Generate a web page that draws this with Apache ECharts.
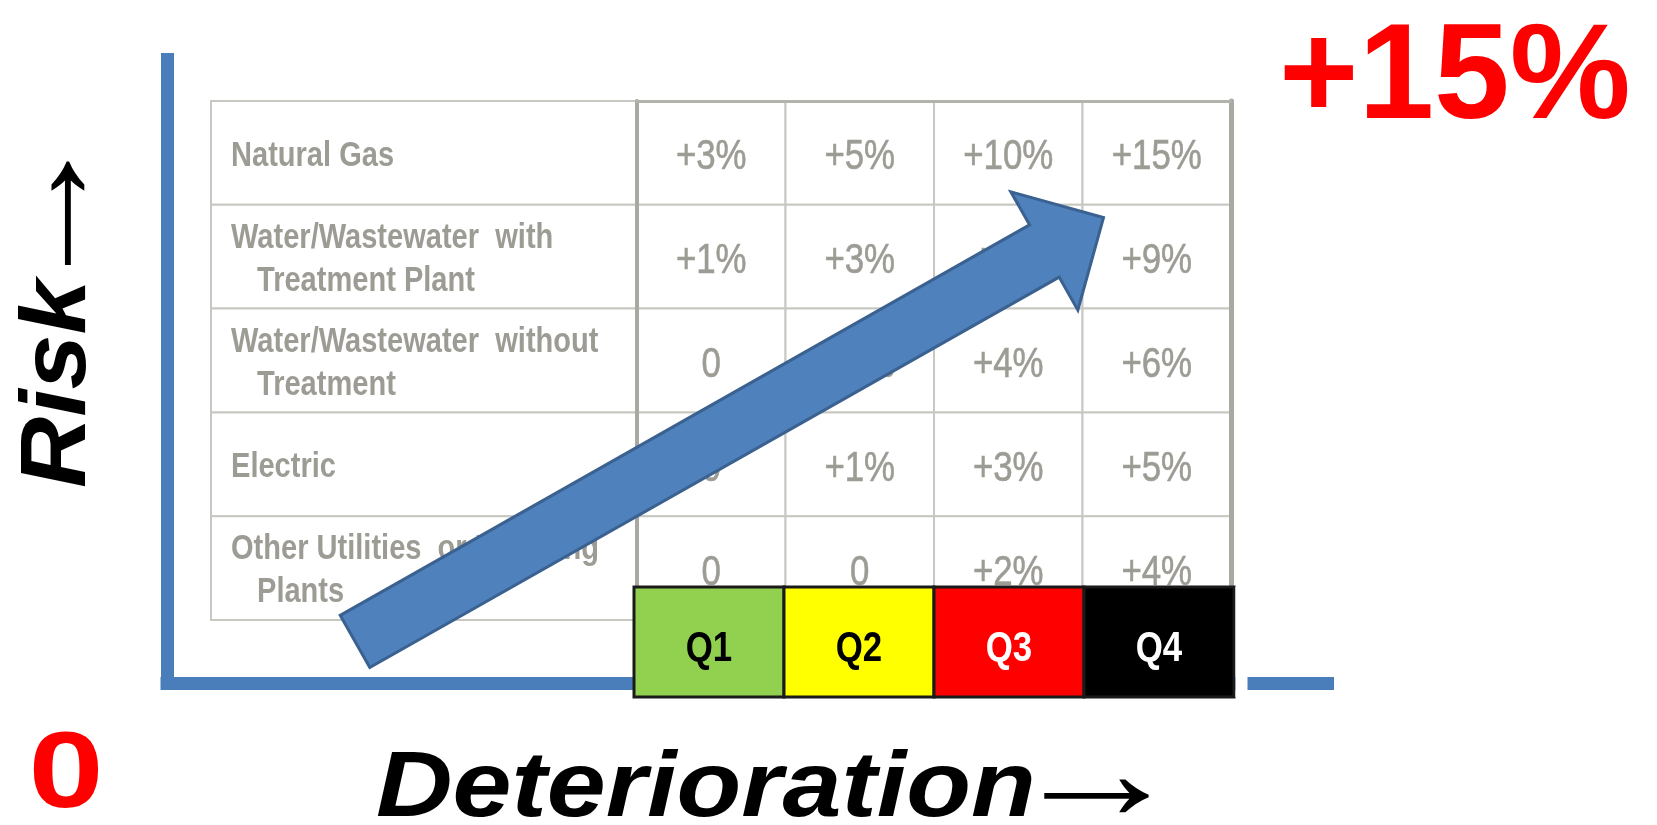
<!DOCTYPE html>
<html>
<head>
<meta charset="utf-8">
<title>Risk vs Deterioration</title>
<script src="https://cdn.jsdelivr.net/npm/echarts@6/dist/echarts.min.js"></script>
<style>
  html, body { margin: 0; padding: 0; background: #fff; }
  #chart { width: 1657px; height: 825px; }
</style>
</head>
<body>
<div id="chart"></div>
<script>
// utility rows, top to bottom
const utilities = [
  'Natural Gas',
  'Water/Wastewater  with\nTreatment Plant',
  'Water/Wastewater  without\nTreatment',
  'Electric',
  'Other Utilities  or Pumping\nPlants'
];
// deterioration quartiles (table columns and bottom band)
const quartiles = ['Q1', 'Q2', 'Q3', 'Q4'];
// added risk in %, Q1..Q4 for each row
const naturalGas = [3, 5, 10, 15];
const waterWithPlant = [1, 3, 6, 9];
const waterWithoutPlant = [0, 2, 4, 6];
const electric = [0, 1, 3, 5];
const otherUtilities = [0, 0, 2, 4];
const riskRows = [naturalGas, waterWithPlant, waterWithoutPlant, electric, otherUtilities];
// trend arrow, [deterioration %, risk %] for tail and tip
const trendFrom = [16.2, 1.0];
const trendTo = [80.7, 11.2];
// risk axis range
const riskMin = 0;
const riskMax = 15;

const bandColors = ['#92d050', '#ffff00', '#ff0000', '#000000'];
const bandTextColors = ['#000000', '#000000', '#ffffff', '#ffffff'];
const sans = '"Liberation Sans", Arial, sans-serif';
const serif = '"Liberation Serif", "Times New Roman", serif';
const tableGray = '#9c9b94';
const gridGray = '#c8c8c3';
const axisBlue = '#4a7ebb';
const narrowScale = 0.83; // no narrow font installed, squeeze the sans instead

const fmtRisk = v => (v === 0 ? '0' : '+' + v + '%');

let valueData = [];
riskRows.forEach((row, r) => {
  row.forEach((v, c) => valueData.push([c, r, v]));
});

const hidden = { show: false };
const blueLine = { show: true, lineStyle: { color: axisBlue, width: 13, cap: 'square' } };

// one table cell: rect from the category band
const cellRect = (api, col, row, style) => {
  const c = api.coord([col, row]);
  const s = api.size([1, 1]);
  return {
    center: c,
    size: s,
    el: { type: 'rect', shape: { x: c[0] - s[0] / 2, y: c[1] - s[1] / 2, width: s[0], height: s[1] }, style: style }
  };
};

let option = {
  animation: false,
  backgroundColor: '#fff',
  grid: [
    { left: 167, top: 59.5, right: 329.5, bottom: 142 },
    { left: 211, top: 101, width: 426, height: 519 },
    { left: 637, top: 101, width: 594, height: 519 },
    { left: 634, top: 587, width: 600, height: 110 }
  ],
  xAxis: [
    { gridIndex: 0, type: 'value', min: 0, max: 100, axisLine: blueLine,
      axisTick: hidden, axisLabel: hidden, splitLine: hidden },
    { gridIndex: 1, type: 'category', data: ['label'], show: false },
    { gridIndex: 2, type: 'category', data: quartiles, position: 'top', z: 3,
      axisLine: { show: true, lineStyle: { color: '#b3b2ab', width: 3 } },
      axisTick: hidden, axisLabel: hidden },
    { gridIndex: 3, type: 'category', data: quartiles, show: false }
  ],
  yAxis: [
    { gridIndex: 0, type: 'value', min: riskMin, max: riskMax, axisLine: blueLine,
      axisTick: hidden, axisLabel: hidden, splitLine: hidden },
    { gridIndex: 1, type: 'category', data: utilities, inverse: true, show: false },
    { gridIndex: 2, type: 'category', data: utilities, inverse: true, position: 'left', z: 3,
      axisLine: { show: true, lineStyle: { color: '#a9a8a1', width: 4 } },
      axisTick: hidden, axisLabel: hidden },
    { gridIndex: 2, type: 'category', data: utilities, inverse: true, position: 'right', z: 3,
      axisLine: { show: true, lineStyle: { color: '#a9a8a1', width: 5 } },
      axisTick: hidden, axisLabel: hidden },
    { gridIndex: 3, type: 'category', data: ['band'], show: false }
  ],
  graphic: [
    { type: 'text', x: 1279, y: 80,
      style: { text: '+' + riskMax + '%', font: 'bold 136px ' + sans, fill: '#ff0000',
        align: 'left', verticalAlign: 'middle' } },
    { type: 'text', x: 66, y: 777, scaleX: 1.25,
      style: { text: String(riskMin), font: 'bold 108px ' + sans, fill: '#ff0000',
        align: 'center', verticalAlign: 'middle' } },
    { type: 'text', x: 376, y: 790, scaleX: 1.14,
      style: { text: 'Deterioration', font: 'italic bold 93px ' + sans, fill: '#000',
        align: 'left', verticalAlign: 'middle' } },
    { type: 'text', x: 1008, y: 782, scaleX: 1.26,
      style: { text: '\u2192', font: '140px ' + serif, fill: '#000',
        align: 'left', verticalAlign: 'middle' } },
    { type: 'text', x: 59, y: 488, rotation: Math.PI / 2, scaleX: 1.06,
      style: { text: 'Risk', font: 'italic bold 93px ' + sans, fill: '#000',
        align: 'left', verticalAlign: 'middle' } },
    { type: 'text', x: 54, y: 301, rotation: Math.PI / 2, scaleX: 1.25,
      style: { text: '\u2192', font: '140px ' + serif, fill: '#000',
        align: 'left', verticalAlign: 'middle' } }
  ],
  series: [
    {
      // row labels column
      type: 'custom',
      xAxisIndex: 1,
      yAxisIndex: 1,
      data: utilities.map((u, i) => [0, i]),
      encode: { x: 0, y: 1 },
      renderItem: (params, api) => {
        const r = api.value(1);
        const cell = cellRect(api, 0, r, { fill: '#fff', stroke: gridGray, lineWidth: 2 });
        const lines = utilities[r].split('\n');
        const x0 = cell.center[0] - cell.size[0] / 2;
        const children = [cell.el];
        lines.forEach((t, k) => {
          children.push({
            type: 'text',
            x: x0 + 20 + (k ? 26 : 0),
            y: cell.center[1] + 3 + (k - (lines.length - 1) / 2) * 43,
            scaleX: narrowScale,
            style: { text: t, font: 'bold 35px ' + sans, fill: tableGray, align: 'left', verticalAlign: 'middle' }
          });
        });
        return { type: 'group', children: children };
      }
    },
    {
      // risk increments
      type: 'custom',
      xAxisIndex: 2,
      yAxisIndex: 2,
      data: valueData,
      encode: { x: 0, y: 1 },
      renderItem: (params, api) => {
        const cell = cellRect(api, api.value(0), api.value(1), { fill: '#fff', stroke: gridGray, lineWidth: 2 });
        return {
          type: 'group',
          children: [cell.el, {
            type: 'text',
            x: cell.center[0],
            y: cell.center[1] + 5,
            scaleX: narrowScale,
            style: { text: fmtRisk(api.value(2)), font: '42px ' + sans, fill: tableGray,
              stroke: tableGray, lineWidth: 0.6, align: 'center', verticalAlign: 'middle' }
          }]
        };
      }
    },
    {
      // quartile band
      type: 'custom',
      xAxisIndex: 3,
      yAxisIndex: 4,
      z: 5,
      data: quartiles.map((q, i) => [i, 0]),
      encode: { x: 0, y: 1 },
      renderItem: (params, api) => {
        const i = api.value(0);
        const cell = cellRect(api, i, 0, { fill: bandColors[i], stroke: '#1a1a1a', lineWidth: 3 });
        const children = [cell.el, {
          type: 'text',
          x: cell.center[0],
          y: cell.center[1] + 7,
          scaleX: narrowScale,
          style: { text: quartiles[i], font: 'bold 42px ' + sans, fill: bandTextColors[i], align: 'center', verticalAlign: 'middle' }
        }];
        if (i === quartiles.length - 1) {
          // white margin right of the band that breaks the axis line
          children.push({
            type: 'rect',
            shape: { x: cell.center[0] + cell.size[0] / 2 + 1.5, y: cell.center[1] - cell.size[1] / 2,
              width: 12, height: cell.size[1] },
            style: { fill: '#fff' }
          });
        }
        return { type: 'group', children: children };
      }
    },
    {
      // trend arrow
      type: 'custom',
      xAxisIndex: 0,
      yAxisIndex: 0,
      z: 10,
      data: [[trendFrom[0], trendFrom[1], trendTo[0], trendTo[1]]],
      encode: { x: [0, 2], y: [1, 3] },
      renderItem: (params, api) => {
        const a = api.coord([api.value(0), api.value(1)]);
        const b = api.coord([api.value(2), api.value(3)]);
        const dx = b[0] - a[0], dy = b[1] - a[1];
        const len = Math.hypot(dx, dy);
        const ux = dx / len, uy = dy / len;
        const nx = -uy, ny = ux;
        const body = 30, head = 68, headLen = 68;
        const bx = b[0] - ux * headLen, by = b[1] - uy * headLen;
        const pts = [
          [a[0] + nx * body, a[1] + ny * body],
          [bx + nx * body, by + ny * body],
          [bx + nx * head, by + ny * head],
          b,
          [bx - nx * head, by - ny * head],
          [bx - nx * body, by - ny * body],
          [a[0] - nx * body, a[1] - ny * body]
        ];
        return {
          type: 'polygon',
          shape: { points: pts },
          style: { fill: '#4f81bd', stroke: '#3a6190', lineWidth: 3 }
        };
      }
    }
  ]
};

let myChart = echarts.init(document.getElementById('chart'));
myChart.setOption(option);
</script>
</body>
</html>
